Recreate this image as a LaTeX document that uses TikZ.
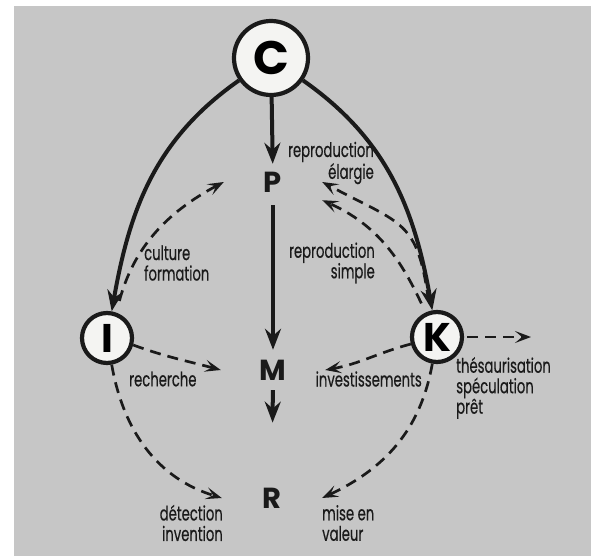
\documentclass[tikz,border=0pt]{standalone}
\usepackage{fontspec}
\setsansfont{Poppins}
\newfontfamily\rotulo[FakeStretch=0.66, FakeBold=0.4]{Poppins}
\usepackage{tikz}
\usetikzlibrary{arrows.meta, positioning}

\begin{document}
\begin{tikzpicture}[x=1pt, y=1pt,
  polo/.style={circle, draw=traco, line width=4.2pt, fill=disco, inner sep=0pt, minimum size=#1},
  etapa/.style={inner sep=0pt, text=traco, font=\sffamily\bfseries\fontsize{29}{30}\selectfont},
  fluxo/.style={draw=traco, line width=4pt, -{Stealth[length=21pt, width=16pt, inset=7pt]}},
  ligacao/.style={draw=traco, line width=2.7pt, dash pattern=on 11pt off 7pt, -{Stealth[length=16pt, width=12pt, inset=7pt]}},
  nota/.style={inner sep=0pt, text=traco, font=\rotulo\fontsize{20}{20.5}\selectfont}]
% --- CORES HEX, FUNDO CINZA E POLOS CIRCULARES ---
\definecolor{fond}{HTML}{C6C6C6}
\definecolor{traco}{HTML}{1A1A1A}
\definecolor{disco}{HTML}{F4F4F2}

% LAYER 1: Fundo
\useasboundingbox (0,0) rectangle (591,-556);
\fill[white] (0,0) rectangle (591,-556);
\fill[fond] (14,-6) rectangle (591,-556);

% LAYER 2: Polos (C, I, K) e etapas (P, M, R)
\node[polo=74pt, font=\sffamily\bfseries\fontsize{47}{47}\selectfont] (C) at (271,-58) {C};
\node[polo=50pt, font=\sffamily\bfseries\fontsize{40}{40}\selectfont] (I) at (107,-338) {I};
\node[polo=50pt, font=\sffamily\bfseries\fontsize{40}{40}\selectfont] (K) at (437,-337) {K};

\node[etapa, minimum width=98pt, minimum height=36pt] (P) at (273,-182) {P};
\node[etapa, minimum width=104pt, minimum height=40pt] (M) at (273,-370) {M};
\node[etapa, minimum width=100pt, minimum height=20pt] (R) at (272,-498) {R};
\coordinate (saida) at (531,-337);

% LAYER 3: Fluxos principais
\draw[fluxo] (C) -- (P);
\draw[fluxo, shorten <=5pt] (P) -- (M);
\draw[fluxo, shorten >=65pt] (M) -- (R);
\draw[fluxo] (C) to[out=215, in=80] (I);
\draw[fluxo] (C) to[out=-35, in=100] (K);

% LAYER 4: Ligacoes tracejadas
\draw[ligacao, shorten <=12pt] (I.70) to[out=75, in=208] (P.west);
\draw[ligacao, shorten <=10pt] (K.105) to[out=98, in=-28, looseness=1.4] (P.east);
\draw[ligacao, shorten <=10pt] (K.115) to[out=115, in=-24] (P.south east);
\draw[ligacao] (I.-15) to[out=-20, in=165] (M.west);
\draw[ligacao] (K.195) to[out=195, in=10] (M.east);
\draw[ligacao, shorten <=3pt] (K) -- (saida);
\draw[ligacao] (I.-80) to[out=-80, in=163] (R.west);
\draw[ligacao] (K.-100) to[out=-100, in=25] (R.east);

% LAYER 5: Rotulos
\node[nota, anchor=east, align=right] (elargie) at (374,-163) {reproduction\\élargie};
\node[nota, anchor=west, align=left] (culture) at (144,-263) {culture\\formation};
\node[nota, anchor=east, align=right] (simple) at (375,-263) {reproduction\\simple};
\node[nota, anchor=west] (recherche) at (129,-379) {recherche};
\node[nota, anchor=east] (invest) at (422,-379) {investissements};
\node[nota, anchor=west, align=left] (thesaur) at (456,-388) {thésaurisation\\spéculation\\prêt};
\node[nota, anchor=east, align=right] (detection) at (223,-523) {détection\\invention};
\node[nota, anchor=west, align=left] (valeur) at (322,-523) {mise en\\valeur};
\end{tikzpicture}
\end{document}
